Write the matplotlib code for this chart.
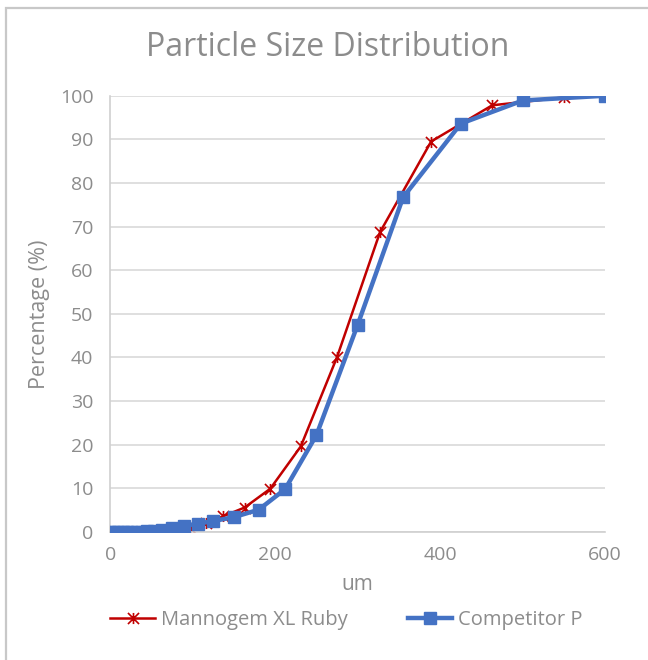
import numpy as np
import matplotlib
matplotlib.use("Agg")
import matplotlib.pyplot as plt
from matplotlib.path import Path
from matplotlib.patches import Rectangle

# cumulative % passing vs particle size (um)
ruby_size = [0, 3.6, 5.1, 7.2, 10, 14, 20, 29, 41, 49, 58, 69, 82, 97, 116, 137, 163, 194, 231, 275, 327, 389, 463, 550, 600]
ruby_pct = [0, 0, 0, 0, 0, 0, 0, 0, 0.05, 0.1, 0.2, 0.3, 0.5, 1.0, 2.0, 3.6, 5.6, 9.9, 19.6, 40.1, 68.7, 89.5, 97.8, 99.6, 100]

comp_size = [0, 5, 10, 15, 20, 25, 32, 38, 45, 53, 63, 75, 90, 106, 125, 150, 180, 212, 250, 300, 355, 425, 500, 600]
comp_pct = [0, 0, 0, 0, 0, 0, 0, 0.1, 0.2, 0.3, 0.5, 1.0, 1.4, 1.9, 2.5, 3.4, 5.1, 9.8, 22.2, 47.5, 76.7, 93.6, 98.9, 100]

grey = '#8c8c8c'
plt.rcParams['font.family'] = ['Open Sans', 'DejaVu Sans']

# excel style star: an x with a vertical bar through it
star = Path([(0, -1), (0, 1), (-1, -1), (1, 1), (-1, 1), (1, -1)],
            [Path.MOVETO, Path.LINETO, Path.MOVETO, Path.LINETO, Path.MOVETO, Path.LINETO])

fig = plt.figure(figsize=(6.48, 6.6), dpi=100)
ax = fig.add_axes([0.17, 0.194, 0.764, 0.661])

ax.plot(ruby_size, ruby_pct, color='#C00000', lw=1.8, marker=star, ms=8, mew=1.2,
        label='Mannogem XL Ruby', zorder=2)
ax.plot(comp_size, comp_pct, color='#4472C4', lw=3.2, marker='s', ms=8.5,
        label='Competitor P', zorder=3)

ax.set_xlim(0, 600)
ax.set_ylim(0, 100)
ax.set_xticks([0, 200, 400, 600])
ax.set_yticks(np.arange(0, 101, 10))
ax.grid(axis='y', color='#d9d9d9', lw=1.2)
ax.set_axisbelow(True)
for s in ['top', 'right']:
    ax.spines[s].set_visible(False)
for s in ['left', 'bottom']:
    ax.spines[s].set_color('#d0d0d0')
    ax.spines[s].set_linewidth(1.2)
ax.tick_params(length=0, labelsize=14, colors=grey)
ax.tick_params(axis='y', pad=12)
ax.tick_params(axis='x', pad=10)

ax.set_xlabel('um', fontsize=15, color=grey, labelpad=7)
ax.set_ylabel('Percentage (%)', fontsize=15.5, color=grey, labelpad=7)
fig.text(0.505, 0.928, 'Particle Size Distribution', ha='center', va='center',
         fontsize=23, color=grey)

fig.legend(loc='center', bbox_to_anchor=(0.535, 0.061), ncol=2, frameon=False,
           fontsize=14.5, labelcolor=grey, handlelength=2.2, columnspacing=3.0,
           handletextpad=0.3)

# chart area border
fig.patches.append(Rectangle((0.009, -0.01), 1.2, 0.998, transform=fig.transFigure,
                             fill=False, ec='#c8c8c8', lw=1.6))

fig.savefig('out.png', dpi=100)
